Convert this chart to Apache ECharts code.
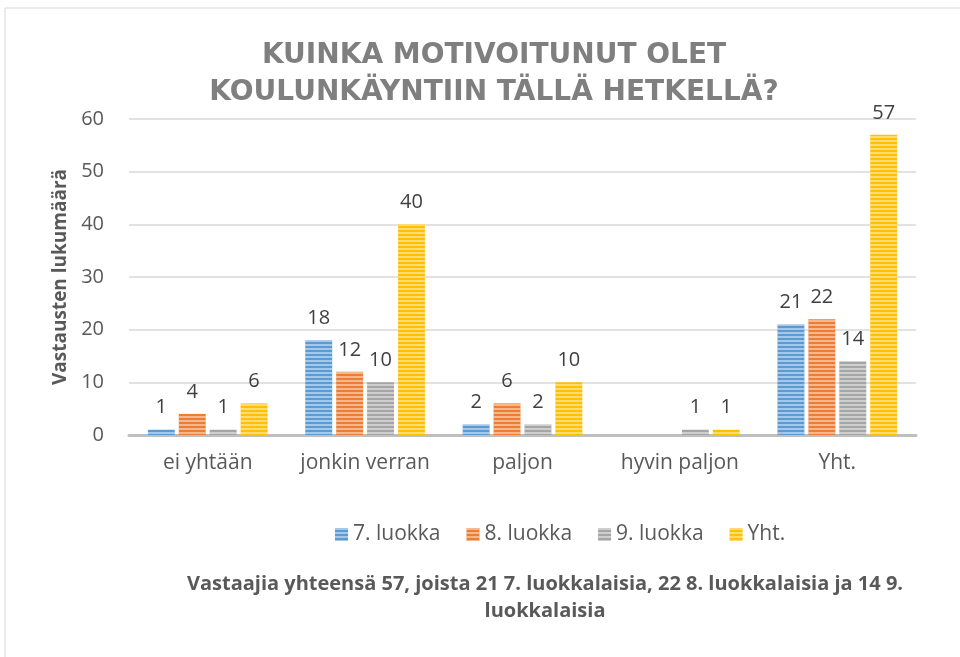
<!DOCTYPE html>
<html><head><meta charset="utf-8">
<script src="https://cdn.jsdelivr.net/npm/echarts@6/dist/echarts.min.js"></script>
<style>html,body{margin:0;padding:0;background:#fff}#c{width:960px;height:657px}</style>
</head><body><div id="c"></div>
<script>
const categories = ['ei yhtään', 'jonkin verran', 'paljon', 'hyvin paljon', 'Yht.'];
const seriesNames = ['7. luokka', '8. luokka', '9. luokka', 'Yht.'];
const s7 = [1, 18, 2, 0, 21];
const s8 = [4, 12, 6, 0, 22];
const s9 = [1, 10, 2, 1, 14];
const sYht = [6, 40, 10, 1, 57];
const yTicks = [0, 10, 20, 30, 40, 50, 60];
const colors = ['#5b9bd5', '#ed7d31', '#a5a5a5', '#ffc000'];

const FONT = 'Open Sans';
const chart = echarts.init(document.getElementById('c'));
const dataSets = [s7, s8, s9, sYht];
const series = dataSets.map((d, i) => ({
  name: seriesNames[i],
  type: 'bar',
  data: d,
  barGap: '15%',
  barCategoryGap: '24%',
  itemStyle: {
    color: colors[i],
    decal: {
      symbol: 'rect',
      dashArrayX: [1, 0],
      dashArrayY: [2, 2],
      rotation: 0,
      color: 'rgba(255,255,255,0.45)',
      symbolSize: 1
    }
  },
  label: {
    show: true,
    position: 'top',
    distance: 12,
    color: '#404040',
    fontSize: 20,
    fontFamily: FONT,
    formatter: p => (p.value === 0 ? '' : p.value)
  }
}));

chart.setOption({
  animation: false,
  aria: { enabled: false, decal: { show: true } },
  textStyle: { fontFamily: FONT },
  title: {
    text: 'KUINKA MOTIVOITUNUT OLET\nKOULUNKÄYNTIIN TÄLLÄ HETKELLÄ?',
    left: 489, top: 32, textAlign: 'center',
    textStyle: { fontFamily: 'DejaVu Sans', fontSize: 28, fontWeight: 'bold', color: '#7f7f7f', lineHeight: 37 }
  },
  legend: {
    data: seriesNames,
    top: 519, left: 330,
    itemWidth: 13, itemHeight: 13, itemGap: 26,
    icon: 'rect',
    textStyle: { fontFamily: FONT, fontSize: 21, color: '#595959' }
  },
  grid: { left: 129, right: 44, top: 119, bottom: 222, containLabel: false },
  xAxis: {
    type: 'category',
    data: categories,
    axisLine: { lineStyle: { color: '#bfbfbf', width: 3 } },
    axisTick: { show: false },
    axisLabel: { interval: 0, fontFamily: FONT, fontSize: 21, color: '#595959', margin: 18 }
  },
  yAxis: {
    type: 'value',
    min: yTicks[0], max: yTicks[yTicks.length - 1], interval: 10,
    name: 'Vastausten lukumäärä',
    nameLocation: 'middle',
    nameGap: 59,
    nameTextStyle: { fontFamily: FONT, fontSize: 19, fontWeight: 'bold', color: '#595959' },
    axisLine: { show: false },
    axisTick: { show: false },
    splitLine: { lineStyle: { color: '#d9d9d9', width: 1.5 } },
    axisLabel: { fontFamily: FONT, fontSize: 20, color: '#595959', margin: 25 }
  },
  graphic: [{
    type: 'rect',
    shape: { x: 5, y: 8, width: 970, height: 660 },
    style: { fill: 'none', stroke: '#d9d9d9', lineWidth: 1 }
  }, {
    type: 'text',
    x: 545, y: 571,
    style: {
      text: 'Vastaajia yhteensä 57, joista 21 7. luokkalaisia, 22 8. luokkalaisia ja 14 9.\nluokkalaisia',
      fontFamily: FONT, fontSize: 20, fontWeight: 'bold', fill: '#595959',
      align: 'center', lineHeight: 27
    }
  }],
  series: series
});
</script>
</body></html>
